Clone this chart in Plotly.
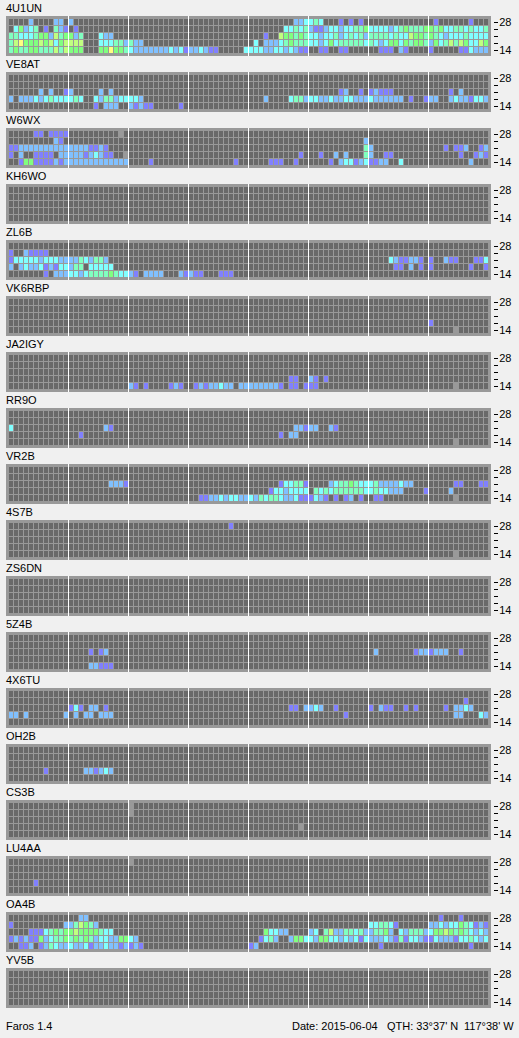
import plotly.graph_objects as go

W, H = 519, 1038
bg_color = '#f0f0f0'
panel_color = '#999999'

# 0 = no spots, 1..7 = signal level, None (missing) = no data
level_colors = ['#696969', '#8080ff', '#80c0ff', '#80ffff', '#80ffc0', '#80ff80', '#c0ff80', '#ffff80']

band_labels = ['14', '', '', '', '28']
hour_edges = [11.5, 23.5, 35.5, 47.5, 59.5, 71.5, 83.5]
footer_left = 'Faros 1.4'
footer_date = 'Date: 2015-06-04'
footer_qth = "QTH: 33°37' N"
footer_lon = "117°38' W"

# each station: bands 28, 24, 21, 18, 14 as (first slot, levels) runs, '-' = no data
S_4U1UN = [
    [(4, '2'), (9, '22'), (12, '2'), (57, '22334'), (62, '3'), (66, '1'), (68, '1'), (70, '1'), (85, '1'), (92, '1')],
    [(1, '35234'), (7, '1'), (9, '4'), (10, '21'), (13, '1'),
     (55, '3343421123' '3233445333' '3234544455' '4533443433' '4')],
    [(0, '443334552645524'), (18, '322'), (51, '1'),
     (54, '6554543323' '3423434244' '4434336554' '5432333433' '33')],
    [(0, '467555656356666'), (18, '33344242'), (26, '2'), (49, '3'),
     (51, '2223454443' '3235344444' '3432355354' '5542534646' '53365')],
    [(0, '454455444646555'), (18, '55755'), (23, '43222222222'), (32, '323'), (35, '1223211'), (47, '333'),
     (50, '3223323211'), (62, '11'), (66, '11'), (74, '111'), (78, '21'), (84, '1'), (90, '113222')],
]

S_VE8AT = [
    [],
    [],
    [(6, '2'), (8, '2'), (11, '12'), (18, '2'), (20, '2'), (66, '12'), (70, '1'), (72, '12111'), (88, '1'), (90, '2')],
    [(0, '2'), (2, '2223234333'), (12, '343'), (17, '3244233332'), (51, '2'), (56, '34423322'),
     (64, '322332223222222'), (80, '1'), (83, '122'), (88, '23221332')],
    [(17, '1'), (19, '222'), (24, '21211'), (34, '1')],
]

S_W6WX = [
    [(5, '11'), (8, '1111'), (22, '-')],
    [(9, '21'), (71, '2')],
    [(0, '11'), (2, '22222222222222'), (16, '1121'), (71, '42'), (87, '1'), (89, '112'), (94, '12')],
    [(0, '1'), (2, '2'), (5, '1111'), (10, '22222'), (15, '12321'), (20, '1'), (23, '-'), (58, '1'), (62, '1'), (65, '2'),
     (67, '2'), (71, '42'), (75, '11'), (90, '1'), (93, '121')],
    [(2, '1551111'), (9, '21'), (11, '2222222222222'), (28, '1'), (45, '1'), (52, '111'), (57, '1'), (64, '1'),
     (66, '2331231122'), (78, '3'), (92, '2')],
]

S_KH6WO = [[], [], [], [], []]

S_ZL6B = [
    [],
    [(0, '1'), (3, '21111')],
    [(0, '13333323332222'), (14, '43244'), (19, '2'), (76, '321122'), (82, '1'), (84, '1'), (87, '211'), (93, '113')],
    [(0, '2'), (2, '23223'), (7, '121'), (10, '33244'), (16, '33333'), (77, '11'), (80, '2'), (82, '1'), (84, '1'), (92, '1'), (95, '1')],
    [(7, '1'), (9, '2223323444454'), (22, '3321'), (27, '2222'), (34, '21211'), (42, '111')],
]

S_VK6RBP = [[], [], [], [(84, '1')], [(89, '-')]]

S_JA2IGY = [
    [],
    [],
    [],
    [(56, '11'), (60, '21'), (63, '1')],
    [(24, '21'), (27, '1'), (32, '121'), (37, '12122322'), (46, '22222222'), (54, '1'), (56, '11'), (59, '111'), (89, '-')],
]

S_RR9O = [
    [],
    [],
    [(0, '3'), (19, '21'), (57, '22122'), (64, '21')],
    [(14, '1'), (54, '1'), (56, '22')],
    [(89, '-')],
]

S_VR2B = [
    [],
    [],
    [(20, '2221'), (54, '133441'), (64, '23445433342222322'), (89, '11'), (94, '11')],
    [(52, '13323333'), (61, '4343444444'), (71, '33433'), (76, '222'), (83, '1'), (88, '2')],
    [(38, '112232332232'), (50, '43443223111321'), (65, '1'), (67, '12'), (70, '1'), (73, '11'), (89, '-')],
]

S_4S7B = [[(44, '1')], [], [], [], [(89, '-')]]

S_ZS6DN = [[], [], [], [], []]

S_5Z4B = [
    [],
    [],
    [(16, '1'), (18, '12'), (73, '2'), (81, '1221222'), (90, '1')],
    [],
    [(16, '22111')],
]

S_4X6TU = [
    [],
    [(91, '1')],
    [(12, '131'), (16, '22'), (19, '1'), (56, '11'), (59, '2232'), (65, '1'), (72, '1'), (74, '211'), (79, '1'), (81, '1'),
     (87, '1'), (89, '2232')],
    [(0, '22'), (3, '2'), (11, '2'), (13, '2'), (15, '22'), (18, '222'), (67, '1'), (89, '22'), (94, '32')],
    [],
]

S_OH2B = [[], [], [], [(7, '1'), (15, '221232')], []]

S_CS3B = [[(24, '-')], [(24, '-')], [], [(58, '-')], []]

S_LU4AA = [[(24, '-')], [], [], [(5, '1')], []]

S_OA4B = [
    [(14, '22'), (86, '1'), (90, '1')],
    [(0, '1'), (11, '2246542'), (72, '33443'), (77, '1'), (84, '223233543121')],
    [(4, '11134545565555433'), (51, '53322'), (60, '23'), (63, '46224434224452'), (78, '32444'),
     (83, '2355654543232')],
    [(0, '12121152344545454233225532'), (50, '1342'), (56, '2553325533232' '31112'), (71, '322232141'), (80, '3321'),
     (84, '132221334323')],
    [(2, '112'), (6, '124322322312232212'), (24, '121'), (48, '12'), (74, '1'), (92, '1')],
]

S_YV5B = [[], [], [], [], []]

station_names = ['4U1UN', 'VE8AT', 'W6WX', 'KH6WO', 'ZL6B', 'VK6RBP', 'JA2IGY', 'RR9O', 'VR2B',
                 '4S7B', 'ZS6DN', '5Z4B', '4X6TU', 'OH2B', 'CS3B', 'LU4AA', 'OA4B', 'YV5B']
station_rows = [S_4U1UN, S_VE8AT, S_W6WX, S_KH6WO, S_ZL6B, S_VK6RBP, S_JA2IGY, S_RR9O, S_VR2B,
                S_4S7B, S_ZS6DN, S_5Z4B, S_4X6TU, S_OH2B, S_CS3B, S_LU4AA, S_OA4B, S_YV5B]


def expand(runs):
    row = [0] * 96
    for start, levels in runs:
        for i, ch in enumerate(levels):
            if start + i < 96:
                row[start + i] = None if ch == '-' else int(ch)
    return row


# stepped scale so each level keeps its flat colour
n = len(level_colors)
colorscale = []
for i, c in enumerate(level_colors):
    colorscale += [[i / n, c], [(i + 1) / n, c]]

fig = go.Figure()
layout_axes = {}
top0, pitch, panel_h = 16, 56, 40
for k, (name, rows) in enumerate(zip(station_names, station_rows), start=1):
    top = top0 + (k - 1) * pitch
    # rows are listed 28 first, heatmap wants y going up from 14
    z = [expand(r) for r in reversed(rows)]
    # x0/y0 nudged so brick edges land on whole pixels
    fig.add_trace(go.Heatmap(z=z, x0=0.1, dx=1, y0=-1 / 14, dy=1, xaxis=f'x{k}', yaxis=f'y{k}', colorscale=colorscale,
                             zmin=-0.5, zmax=n - 0.5, showscale=False, xgap=1, ygap=1, hoverinfo='skip'))
    layout_axes[f'xaxis{k}'] = dict(domain=[6 / W, 491 / W], range=[-1, 96], anchor=f'y{k}', tickvals=hour_edges,
                                    showgrid=True, gridcolor='#ffffff', gridwidth=1, showticklabels=False, ticks='',
                                    zeroline=False, showline=False)
    layout_axes[f'yaxis{k}'] = dict(domain=[1 - (top + panel_h) / H, 1 - top / H], range=[-6 / 7, 4 + 6 / 7],
                                    anchor='free', position=493 / W, side='right', tickmode='array',
                                    tickvals=[0, 1, 2, 3, 4], ticktext=band_labels, ticks='outside', ticklen=4,
                                    tickwidth=1, tickcolor='#000000', showgrid=False, zeroline=False, showline=False,
                                    ticklabelstandoff=-1,
                                    tickfont=dict(size=11, color='#000000', family='Liberation Sans'))
    fig.add_annotation(text=name, xref='paper', yref='paper', x=4 / W, y=1 - (top - 8) / H, xanchor='left',
                       yanchor='middle', showarrow=False, font=dict(size=11, color='#000000', family='Liberation Sans'))

for text, px in [(footer_left, 4), (footer_date, 290), (footer_qth, 385), (footer_lon, 462)]:
    fig.add_annotation(text=text, xref='paper', yref='paper', x=px / W, y=1 - 1026 / H, xanchor='left',
                       yanchor='middle', showarrow=False, font=dict(size=11, color='#000000', family='Liberation Sans'))

fig.update_layout(width=W, height=H, autosize=False, margin=dict(l=0, r=0, t=0, b=0), showlegend=False,
                  paper_bgcolor=bg_color, plot_bgcolor=panel_color, **layout_axes)

fig.write_html('out.html', config=dict(displayModeBar=False),
               post_script="document.body.style.margin='0';document.body.style.background='#f0f0f0';document.body.style.overflow='hidden';")
